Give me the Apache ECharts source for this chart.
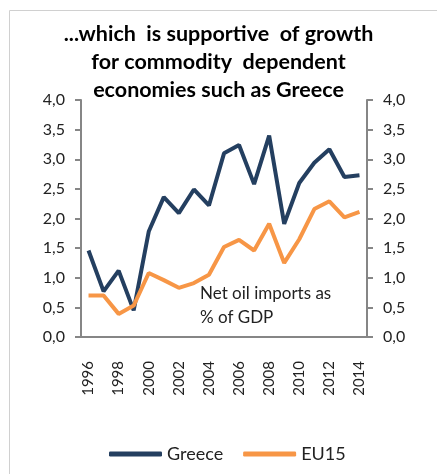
<!DOCTYPE html>
<html><head><meta charset="utf-8">
<script src="https://cdn.jsdelivr.net/npm/echarts@6/dist/echarts.min.js"></script>
<style>html,body{margin:0;padding:0;background:#fff}#c{width:437px;height:474px}</style>
</head><body><div id="c"></div>
<script>
var years = ['1996','1997','1998','1999','2000','2001','2002','2003','2004','2005','2006','2007','2008','2009','2010','2011','2012','2013','2014'];
var greece = [1.46,0.77,1.12,0.45,1.78,2.36,2.09,2.49,2.22,3.10,3.24,2.58,3.40,1.91,2.60,2.94,3.17,2.70,2.73];
var eu15 = [0.70,0.70,0.39,0.53,1.08,0.96,0.83,0.91,1.05,1.52,1.64,1.46,1.91,1.25,1.65,2.16,2.29,2.02,2.11];
var titleText = '...which  is supportive  of growth\nfor commodity  dependent\neconomies such as Greece';
var noteText = 'Net oil imports as\n% of GDP';
var FONT = 'Lato, "Open Sans", sans-serif';
var chart = echarts.init(document.getElementById('c'));
var yAxisCommon = {
  type: 'value', min: 0, max: 4, interval: 0.5,
  splitLine: {show: false},
  axisLine: {show: true, lineStyle: {color: '#868686', width: 2}},
  axisTick: {show: true, length: 6, lineStyle: {color: '#868686', width: 2}},
  axisLabel: {margin: 16, color: '#222', fontSize: 16, fontFamily: FONT,
    formatter: function(v){return v.toFixed(1).replace('.', ',');}}
};
chart.setOption({
  animation: false,
  title: {text: titleText, left: 'center', top: 15,
    textStyle: {fontSize: 21.5, fontWeight: 'bold', color: '#000', fontFamily: FONT, lineHeight: 28}},
  legend: {left: 104, top: 440, itemWidth: 53, itemHeight: 5, itemGap: 20, icon: 'roundRect',
    textStyle: {fontSize: 18, color: '#222', fontFamily: FONT},
    data: ['Greece', 'EU15']},
  grid: {left: 81, right: 70, top: 100, bottom: 137},
  xAxis: {type: 'category', data: years, boundaryGap: true,
    axisLine: {lineStyle: {color: '#868686', width: 2}},
    axisTick: {show: false},
    axisLabel: {interval: 1, rotate: 90, margin: 24, color: '#222', fontSize: 15, fontFamily: FONT}},
  yAxis: [
    Object.assign({}, yAxisCommon, {position: 'left'}),
    Object.assign({}, yAxisCommon, {position: 'right'})
  ],
  graphic: [
    {type: 'rect', left: 7, top: 8, shape: {width: 450, height: 490},
      style: {fill: 'none', stroke: '#d0d0d0', lineWidth: 1}, silent: true},
    {type: 'text', left: 200, top: 282, style: {text: noteText, fontSize: 17, lineHeight: 24, fill: '#222', fontFamily: FONT}}
  ],
  series: [
    {name: 'Greece', type: 'line', data: greece, yAxisIndex: 0, symbol: 'none',
      lineStyle: {color: '#243F60', width: 4}, itemStyle: {color: '#243F60'}},
    {name: 'EU15', type: 'line', data: eu15, yAxisIndex: 0, symbol: 'none',
      lineStyle: {color: '#F79646', width: 4}, itemStyle: {color: '#F79646'}}
  ]
});
</script></body></html>
